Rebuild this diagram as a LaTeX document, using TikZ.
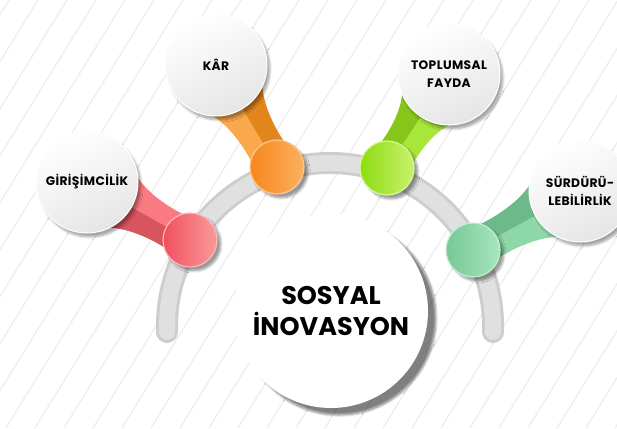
\documentclass[tikz,border=0pt]{standalone}
\usepackage{fontspec}
\setmainfont{Poppins}
\newfontfamily\widefont[LetterSpace=3]{Poppins}
\usepackage{tikz}
\usetikzlibrary{calc, shadows.blur}

\definecolor{stripe}{HTML}{EDEDED}
\definecolor{arcedge}{HTML}{CDCDCD}
\definecolor{arcfill}{HTML}{E0E0E0}
\definecolor{redA}{HTML}{F0505E}  \definecolor{redB}{HTML}{F99A9A}
\definecolor{redD}{HTML}{D8545E}  \definecolor{redL}{HTML}{F97A80}
\definecolor{orA}{HTML}{F7861C}   \definecolor{orB}{HTML}{FBB15F}
\definecolor{orD}{HTML}{E0861D}   \definecolor{orL}{HTML}{F9A84B}
\definecolor{limA}{HTML}{8EDC12}  \definecolor{limB}{HTML}{C7F26B}
\definecolor{limD}{HTML}{86C51A}  \definecolor{limL}{HTML}{A8E63A}
\definecolor{grnA}{HTML}{78C896}  \definecolor{grnB}{HTML}{A6E6BE}
\definecolor{grnD}{HTML}{6DB989}  \definecolor{grnL}{HTML}{8ED8A8}

% stem between a bubble and its dot, two tones
\newcommand{\stemfill}[4]{%
  \fill[#3] (#1) -- ($(#1)!49pt!42:(#2)$)
    .. controls ($(#1)!0.45!(#2)!19pt!90:(#2)$) and ($(#1)!0.75!(#2)!18pt!90:(#2)$)
    .. ($(#2)!26pt!-48:(#1)$) -- (#2) -- cycle;
  \fill[#4] (#1) -- ($(#1)!49pt!-42:(#2)$)
    .. controls ($(#1)!0.45!(#2)!19pt!-90:(#2)$) and ($(#1)!0.75!(#2)!18pt!-90:(#2)$)
    .. ($(#2)!26pt!48:(#1)$) -- (#2) -- cycle;
}

\begin{document}
\begin{tikzpicture}[
    x=1pt, y=-1pt,
    bubble/.style = {circle, minimum size=102pt, inner sep=0pt, align=center,
      top color=white, bottom color=black!10, shading angle=25,
      draw=white, line width=1pt,
      blur shadow={shadow xshift=3pt, shadow yshift=-4pt, shadow opacity=35, shadow blur steps=6},
      font=\widefont\fontsize{12.3}{17.5}\selectfont\bfseries},
    dot/.style = {circle, minimum size=54pt, inner sep=0pt, line width=1.2pt,
      blur shadow={shadow xshift=4pt, shadow yshift=-4pt, shadow opacity=40, shadow blur steps=6}},
    hub/.style = {circle, minimum size=194pt, inner sep=0pt, align=center, fill=white,
      blur shadow={shadow xshift=8pt, shadow yshift=-7pt, shadow opacity=50, shadow blur steps=8},
      font=\fontsize{25.5}{31}\selectfont\bfseries}
    ]

  \useasboundingbox (0,0) rectangle (617,428);
  \clip (0,0) rectangle (617,428);

  % background stripes
  \foreach \s in {-260,-231,...,900}
    \draw[stripe, line width=1.3pt] (\s+37,0) -- (\s-227,428);

  % gray arc
  \draw[arcedge, line width=22pt, line cap=round]
    (167,332) -- (167,326) arc[start angle=180, end angle=360, radius=163] -- (493,332);
  \draw[arcfill, line width=16pt, line cap=round]
    (167,332) -- (167,326) arc[start angle=180, end angle=360, radius=163] -- (493,332);

  \node[hub] (sosyal) at (331,311) {SOSYAL\\İNOVASYON};

  \coordinate (girisimc) at (87,182);
  \coordinate (karc) at (216,65);
  \coordinate (toplumc) at (449,74);
  \coordinate (surdurc) at (580,191);
  \coordinate (reddotc) at (190,240);
  \coordinate (ordotc) at (277,167);
  \coordinate (limdotc) at (387,168);
  \coordinate (grndotc) at (473,250);

  \stemfill{girisimc}{reddotc}{redL}{redD}
  \stemfill{karc}{ordotc}{orD}{orL}
  \stemfill{toplumc}{limdotc}{limL}{limD}
  \stemfill{surdurc}{grndotc}{grnL}{grnD}

  \node[bubble] (girisim) at (girisimc) {GİRİŞİMCİLİK};
  \node[bubble] (kar) at (karc) {KÂR};
  \node[bubble] (toplum) at (toplumc) {TOPLUMSAL\\FAYDA};
  \node[bubble] (surdur) at (surdurc) {SÜRDÜRÜ-\\LEBİLİRLİK};

  \node[dot, left color=redA, right color=redB, draw=redB!70!white] (reddot) at (reddotc) {};
  \node[dot, left color=orA, right color=orB, draw=orB!70!white] (ordot) at (ordotc) {};
  \node[dot, left color=limA, right color=limB, draw=limB!70!white] (limdot) at (limdotc) {};
  \node[dot, left color=grnA, right color=grnB, draw=grnB!70!white] (grndot) at (grndotc) {};
\end{tikzpicture}
\end{document}
